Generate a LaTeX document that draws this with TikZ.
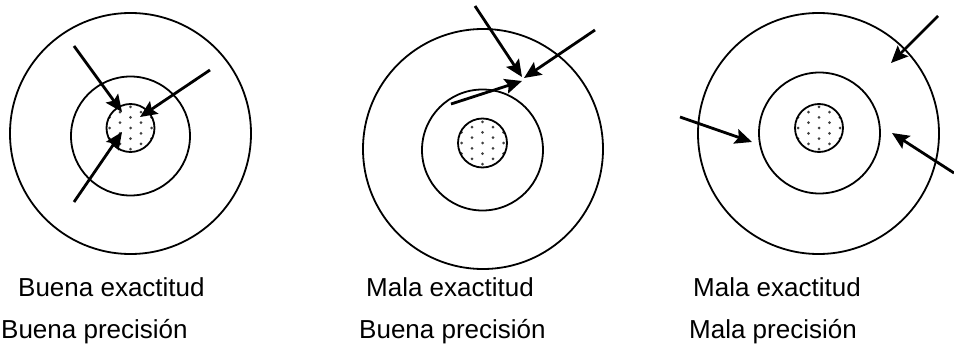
\documentclass[tikz,border=0pt]{standalone}
\usepackage{fontspec}
\setmainfont{Liberation Sans}
\usetikzlibrary{arrows.meta}
\begin{document}
\begin{tikzpicture}[x=1pt,y=-1pt,
  ring/.style={line width=1.8pt},
  arr/.style={line width=2.8pt, -{Stealth[length=17pt,width=15pt,inset=3pt]}},
  lbl/.style={anchor=base west, inner sep=0pt, font=\fontsize{26}{30}\selectfont},
  spot/.style={fill=black!75}]
\useasboundingbox (0,0) rectangle (954,345);

% ---------- dotted bullseyes ----------
\foreach \cx/\cy/\r in {130.5/128/24, 482.5/143/24.5, 819/128/24}{
  \begin{scope}
    \clip (\cx,\cy) circle[radius=\r];
    \foreach \i in {-2,0,2}
      \foreach \j in {-3,...,3}
        \fill[spot] ({\cx+\i*10.5},{\cy+\j*10.6}) circle (1.5pt);
    \foreach \i in {-3,-1,1,3}
      \foreach \j in {-3.5,-2.5,...,3.5}
        \fill[spot] ({\cx+\i*10.5},{\cy+\j*10.6}) circle (1.5pt);
  \end{scope}
}

% ---------- panel 1 ----------
\draw[ring] (130.5,133.5) circle[radius=120.5];
\draw[ring] (130.5,136) circle[radius=59.5];
\draw[ring] (130.5,128) circle[radius=24];
\coordinate (p1a) at (74,46);   \coordinate (p1at) at (122,112);
\coordinate (p1b) at (210,70);  \coordinate (p1bt) at (140,117);
\coordinate (p1c) at (74,202);  \coordinate (p1ct) at (122,132);
\draw[arr] (p1a) -- (p1at);
\draw[arr] (p1b) -- (p1bt);
\draw[arr] (p1c) -- (p1ct);
\node[lbl] (t1a) at (18,296) {Buena exactitud};
\node[lbl] (t1b) at (1,338) {Buena precisión};

% ---------- panel 2 ----------
\draw[ring] (483,149) circle[radius=120];
\draw[ring] (482.5,150) circle[radius=60.5];
\draw[ring] (482.5,143) circle[radius=24.5];
\coordinate (p2a) at (475,6);   \coordinate (p2at) at (522,77);
\coordinate (p2b) at (595,30);  \coordinate (p2bt) at (524,78);
\coordinate (p2c) at (451,104); \coordinate (p2ct) at (522,81);
\draw[arr] (p2a) -- (p2at);
\draw[arr] (p2b) -- (p2bt);
\draw[arr] (p2c) -- (p2ct);
\node[lbl] (t2a) at (366,296) {Mala exactitud};
\node[lbl] (t2b) at (359,338) {Buena precisión};

% ---------- panel 3 ----------
\draw[ring] (818.5,133.5) circle[radius=120.5];
\draw[ring] (819.5,133) circle[radius=60.5];
\draw[ring] (819,128) circle[radius=24];
\coordinate (p3a) at (938,16);  \coordinate (p3at) at (891,63);
\coordinate (p3b) at (680,117); \coordinate (p3bt) at (752,142);
\coordinate (p3c) at (954,173); \coordinate (p3ct) at (892,133);
\draw[arr] (p3a) -- (p3at);
\draw[arr] (p3b) -- (p3bt);
\draw[arr] (p3c) -- (p3ct);
\node[lbl] (t3a) at (693,296) {Mala exactitud};
\node[lbl] (t3b) at (689,338) {Mala precisión};
\end{tikzpicture}
\end{document}
